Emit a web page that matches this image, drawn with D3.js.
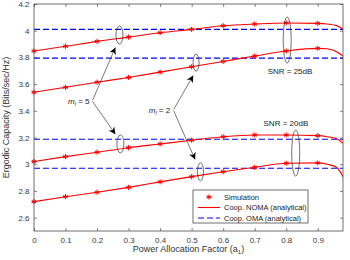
<!DOCTYPE html>
<html>
<head>
<meta charset="utf-8">
<script src="https://cdn.jsdelivr.net/npm/d3@7"></script>
<style>
  body { margin: 0; background: #fff; }
  svg { display: block; font-family: "Liberation Sans", Arial, sans-serif; }
</style>
</head>
<body>
<div id="chart"></div>
<script>
// power allocation factor grid (analytical curves) and simulation points
const aAnalytical = [0, 0.1, 0.2, 0.3, 0.4, 0.5, 0.6, 0.7, 0.8, 0.9, 0.93, 0.96, 0.98];
const aSim = [0, 0.1, 0.2, 0.3, 0.4, 0.5, 0.6, 0.7, 0.8, 0.9];

// Coop. NOMA (analytical)
const noma25m5 = [3.848, 3.883, 3.92, 3.952, 3.985, 4.01, 4.037, 4.05, 4.058, 4.055, 4.05, 4.038, 4.012];
const noma25m2 = [3.539, 3.576, 3.614, 3.65, 3.69, 3.73, 3.77, 3.81, 3.848, 3.868, 3.865, 3.843, 3.81];
const noma20m5 = [3.02, 3.057, 3.09, 3.124, 3.152, 3.18, 3.206, 3.219, 3.219, 3.214, 3.206, 3.19, 3.157];
const noma20m2 = [2.72, 2.757, 2.79, 2.827, 2.868, 2.907, 2.944, 2.977, 3.007, 3.01, 3.0, 2.975, 2.907];

// Simulation
const sim25m5 = [3.848, 3.883, 3.92, 3.952, 3.985, 4.01, 4.037, 4.05, 4.058, 4.055];
const sim25m2 = [3.539, 3.576, 3.614, 3.65, 3.69, 3.73, 3.77, 3.81, 3.848, 3.868];
const sim20m5 = [3.02, 3.057, 3.09, 3.124, 3.152, 3.18, 3.206, 3.219, 3.219, 3.214];
const sim20m2 = [2.72, 2.757, 2.79, 2.827, 2.868, 2.907, 2.944, 2.977, 3.007, 3.01];

// Coop. OMA (analytical), constant in a1
const omaLevels = [4.01, 3.795, 3.187, 2.97];

const xTicks = [0, 0.1, 0.2, 0.3, 0.4, 0.5, 0.6, 0.7, 0.8, 0.9];
const yTicks = [2.6, 2.8, 3, 3.2, 3.4, 3.6, 3.8, 4, 4.2];

const legendLabels = ['Simulation', 'Coop. NOMA (analytical)', 'Coop. OMA (analytical)'];

// annotations: ellipses in data coords (a1, capacity)
const ellipses = [
    { a: 0.271, v: 3.968, rx: 3.5, ry: 9 },
    { a: 0.274, v: 3.152, rx: 3.5, ry: 9 },
    { a: 0.514, v: 3.761, rx: 3, ry: 8.5 },
    { a: 0.528, v: 2.944, rx: 3, ry: 9 },
    { a: 0.803, v: 3.93, rx: 4, ry: 23 },
    { a: 0.83, v: 3.084, rx: 4, ry: 23 }
];
const arrows = [
    { a0: 0.186, v0: 3.48, a1: 0.258, v1: 3.875 },
    { a0: 0.186, v0: 3.47, a1: 0.258, v1: 3.225 },
    { a0: 0.443, v0: 3.41, a1: 0.505, v1: 3.665 },
    { a0: 0.443, v0: 3.40, a1: 0.511, v1: 3.035 }
];
const mLabels = [
    { a: 0.176, v: 3.474, m: '5' },
    { a: 0.432, v: 3.406, m: '2' }
];
const snrLabels = [
    { a: 0.741, v: 3.70, text: 'SNR = 25dB' },
    { a: 0.728, v: 3.31, text: 'SNR = 20dB' }
];

const width = 350, height = 260;
const margin = { top: 4, right: 7, bottom: 29, left: 34 };

const svg = d3.select('#chart').append('svg')
    .attr('width', width)
    .attr('height', height);

const x = d3.scaleLinear().domain([0, 0.98]).range([margin.left, width - margin.right]);
const y = d3.scaleLinear().domain([2.5, 4.2]).range([height - margin.bottom, margin.top]);

const axisColor = '#4d4d4d';
const fmt = d => String(+d.toFixed(1));

// axes with inward ticks
const styleAxis = g => {
    g.attr('font-family', null);
    g.select('.domain').remove();
    g.selectAll('.tick line').attr('stroke', axisColor).attr('stroke-width', 0.7);
    g.selectAll('.tick text').attr('fill', '#3a3a3a').attr('font-size', 8);
};

svg.append('g')
    .attr('transform', `translate(0,${y.range()[0]})`)
    .call(d3.axisBottom(x).tickValues(xTicks).tickSize(-3).tickPadding(6).tickFormat(fmt))
    .call(styleAxis);

svg.append('g')
    .attr('transform', `translate(0,${y.range()[1]})`)
    .call(d3.axisTop(x).tickValues(xTicks).tickSize(-3).tickFormat(''))
    .call(styleAxis);

svg.append('g')
    .attr('transform', `translate(${x.range()[0]},0)`)
    .call(d3.axisLeft(y).tickValues(yTicks).tickSize(-3).tickPadding(4.5).tickFormat(fmt))
    .call(styleAxis);

svg.append('g')
    .attr('transform', `translate(${x.range()[1]},0)`)
    .call(d3.axisRight(y).tickValues(yTicks).tickSize(-3).tickFormat(''))
    .call(styleAxis);

// clip to plot area
svg.append('clipPath').attr('id', 'clip')
    .append('rect')
    .attr('x', x.range()[0]).attr('y', y.range()[1])
    .attr('width', x.range()[1] - x.range()[0])
    .attr('height', y.range()[0] - y.range()[1]);

const plot = svg.append('g').attr('clip-path', 'url(#clip)');

// OMA dashed lines
plot.selectAll('line.oma')
    .data(omaLevels)
    .join('line')
    .attr('class', 'oma')
    .attr('x1', x(0)).attr('x2', x(0.98))
    .attr('y1', d => y(d)).attr('y2', d => y(d))
    .attr('stroke', '#0000ff')
    .attr('stroke-width', 1.2)
    .attr('stroke-dasharray', '6,3');

// NOMA curves
const line = d3.line()
    .curve(d3.curveMonotoneX)
    .x((d, i) => x(aAnalytical[i]))
    .y(d => y(d));

plot.selectAll('path.noma')
    .data([noma25m5, noma25m2, noma20m5, noma20m2])
    .join('path')
    .attr('class', 'noma')
    .attr('fill', 'none')
    .attr('stroke', '#ff0000')
    .attr('stroke-width', 1.1)
    .attr('d', line);

// asterisk markers
const asterisk = (r) => {
    const p = d3.path();
    for (let k = 0; k < 3; k++) {
        const t = k * Math.PI / 3 + Math.PI / 2;
        p.moveTo(r * Math.cos(t), r * Math.sin(t));
        p.lineTo(-r * Math.cos(t), -r * Math.sin(t));
    }
    p.moveTo(-r, 0); p.lineTo(r, 0);
    return p.toString();
};
const star = asterisk(2.6);

const simPoints = [sim25m5, sim25m2, sim20m5, sim20m2]
    .flatMap(s => s.map((v, i) => ({ a: aSim[i], v })));

svg.append('g')
    .selectAll('path')
    .data(simPoints)
    .join('path')
    .attr('transform', d => `translate(${x(d.a)},${y(d.v)})`)
    .attr('d', star)
    .attr('fill', 'none')
    .attr('stroke', '#ff0000')
    .attr('stroke-width', 1);

// frame
svg.append('rect')
    .attr('x', x.range()[0]).attr('y', y.range()[1])
    .attr('width', x.range()[1] - x.range()[0])
    .attr('height', y.range()[0] - y.range()[1])
    .attr('fill', 'none')
    .attr('stroke', axisColor)
    .attr('stroke-width', 0.8);

// annotations
const ann = svg.append('g');

ann.selectAll('ellipse')
    .data(ellipses)
    .join('ellipse')
    .attr('cx', d => x(d.a)).attr('cy', d => y(d.v))
    .attr('rx', d => d.rx).attr('ry', d => d.ry)
    .attr('fill', 'none')
    .attr('stroke', '#333')
    .attr('stroke-width', 0.7);

svg.append('defs').append('marker')
    .attr('id', 'arrowhead')
    .attr('viewBox', '0 0 10 10')
    .attr('refX', 10).attr('refY', 5)
    .attr('markerWidth', 7).attr('markerHeight', 7)
    .attr('markerUnits', 'userSpaceOnUse')
    .attr('orient', 'auto')
    .append('path')
    .attr('d', 'M0,0 L10,5 L0,10 L3,5 Z')
    .attr('fill', '#000');

ann.selectAll('line.arrow')
    .data(arrows)
    .join('line')
    .attr('class', 'arrow')
    .attr('x1', d => x(d.a0)).attr('y1', d => y(d.v0))
    .attr('x2', d => x(d.a1)).attr('y2', d => y(d.v1))
    .attr('stroke', '#222')
    .attr('stroke-width', 0.6)
    .attr('marker-end', 'url(#arrowhead)');

const mText = ann.selectAll('text.m')
    .data(mLabels)
    .join('text')
    .attr('class', 'm')
    .attr('x', d => x(d.a)).attr('y', d => y(d.v))
    .attr('dy', '0.35em')
    .attr('text-anchor', 'end')
    .attr('font-size', 8)
    .attr('fill', '#222');
mText.append('tspan').attr('font-style', 'italic').text('m');
mText.append('tspan').attr('font-style', 'italic').attr('font-size', 5.5).attr('dy', 2).text('l');
mText.append('tspan').attr('dy', -2).text(d => ' = ' + d.m);

ann.selectAll('text.snr')
    .data(snrLabels)
    .join('text')
    .attr('class', 'snr')
    .attr('x', d => x(d.a)).attr('y', d => y(d.v))
    .attr('dy', '0.35em')
    .attr('font-size', 8)
    .attr('fill', '#222')
    .text(d => d.text);

// legend
const lg = svg.append('g').attr('transform', 'translate(193,190)');
lg.append('rect')
    .attr('width', 115).attr('height', 33)
    .attr('fill', '#fff')
    .attr('stroke', '#333')
    .attr('stroke-width', 0.7);

const rows = lg.selectAll('g.row')
    .data(legendLabels)
    .join('g')
    .attr('class', 'row')
    .attr('transform', (d, i) => `translate(0,${7 + i * 10.5})`);

rows.filter((d, i) => i === 0).append('path')
    .attr('transform', 'translate(16,0)')
    .attr('d', star)
    .attr('fill', 'none')
    .attr('stroke', '#ff0000');
rows.filter((d, i) => i === 1).append('line')
    .attr('x1', 5).attr('x2', 27)
    .attr('stroke', '#ff0000').attr('stroke-width', 1.1);
rows.filter((d, i) => i === 2).append('line')
    .attr('x1', 5).attr('x2', 27)
    .attr('stroke', '#0000ff').attr('stroke-width', 1.2)
    .attr('stroke-dasharray', '6,3');

rows.append('text')
    .attr('x', 31)
    .attr('dy', '0.35em')
    .attr('font-size', 7.5)
    .attr('fill', '#222')
    .text(d => d);

// axis labels
const xl = svg.append('text')
    .attr('x', (x.range()[0] + x.range()[1]) / 2)
    .attr('y', 252)
    .attr('text-anchor', 'middle')
    .attr('font-size', 9)
    .attr('fill', '#333');
xl.append('tspan').text('Power Allocation Factor (a');
xl.append('tspan').attr('font-size', 6).attr('dy', 2).text('1');
xl.append('tspan').attr('dy', -2).text(')');

svg.append('text')
    .attr('transform', `translate(9,${(y.range()[0] + y.range()[1]) / 2}) rotate(-90)`)
    .attr('text-anchor', 'middle')
    .attr('font-size', 9)
    .attr('fill', '#333')
    .text('Ergodic Capacity (Bits/sec/Hz)');
</script>
</body>
</html>
